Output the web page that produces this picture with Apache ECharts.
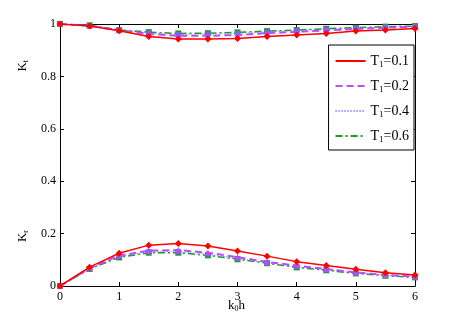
<!DOCTYPE html>
<html>
<head>
<meta charset="utf-8">
<script src="https://cdn.jsdelivr.net/npm/echarts@6/dist/echarts.min.js"></script>
<style>
  html, body { margin: 0; padding: 0; background: #fff; }
  #chart { width: 458px; height: 327px; }
</style>
</head>
<body>
<div id="chart"></div>
<script>
const kh = [0, 0.5, 1, 1.5, 2, 2.5, 3, 3.5, 4, 4.5, 5, 5.5, 6]
const legendNames = ['T1=0.1', 'T1=0.2', 'T1=0.4', 'T1=0.6']

// transmission coefficient K_t
const kt01 = [1, 0.992, 0.974, 0.952, 0.943, 0.943, 0.945, 0.952, 0.958, 0.964, 0.973, 0.977, 0.983]
const kt02 = [1, 0.993, 0.976, 0.962, 0.955, 0.955, 0.958, 0.965, 0.970, 0.976, 0.981, 0.986, 0.989]
const kt04 = [1, 0.994, 0.977, 0.966, 0.960, 0.961, 0.964, 0.970, 0.974, 0.979, 0.984, 0.988, 0.991]
const kt06 = [1, 0.995, 0.977, 0.969, 0.964, 0.965, 0.968, 0.973, 0.977, 0.982, 0.986, 0.990, 0.992]

// reflection coefficient K_r
const kr01 = [0, 0.072, 0.125, 0.156, 0.162, 0.153, 0.134, 0.114, 0.093, 0.078, 0.064, 0.051, 0.042]
const kr02 = [0, 0.068, 0.116, 0.135, 0.137, 0.127, 0.110, 0.092, 0.078, 0.065, 0.052, 0.042, 0.036]
const kr04 = [0, 0.066, 0.112, 0.131, 0.131, 0.121, 0.105, 0.089, 0.074, 0.062, 0.050, 0.041, 0.034]
const kr06 = [0, 0.065, 0.109, 0.127, 0.127, 0.117, 0.102, 0.087, 0.071, 0.060, 0.048, 0.039, 0.033]

const yTicks = [0, 0.2, 0.4, 0.6, 0.8, 1]

const styles = [
  { color: '#ff0000', type: 'solid', width: 1.5, symbol: 'diamond', size: 7 },
  { color: '#b94dff', type: [7, 4], width: 2, symbol: 'triangle', size: 6 },
  { color: '#6868ff', type: [1, 2], width: 1, symbol: 'rect', size: 5 },
  { color: '#229922', type: [7, 3, 2, 3], width: 1.5, symbol: 'rect', size: 6 }
]

const pairs = ys => kh.map((x, i) => [x, ys[i]])
const groups = [[kt01, kr01], [kt02, kr02], [kt04, kr04], [kt06, kr06]]

const series = []
groups.forEach((g, i) => {
  const s = styles[i]
  g.forEach(ys => {
    series.push({
      name: legendNames[i],
      type: 'line',
      data: pairs(ys),
      symbol: s.symbol,
      symbolSize: s.size,
      showAllSymbol: true,
      lineStyle: { color: s.color, type: s.type, width: s.width },
      itemStyle: { color: s.color },
      z: 10 - i
    })
  })
})

const font = 'Liberation Serif'
const axisCommon = {
  type: 'value',
  axisLine: { show: true, onZero: false, lineStyle: { color: '#000', width: 1 } },
  axisTick: { show: true, inside: true, length: 4, lineStyle: { color: '#000' } },
  splitLine: { show: false }
}

const chart = echarts.init(document.getElementById('chart'))
chart.setOption({
  animation: false,
  backgroundColor: '#fff',
  textStyle: { fontFamily: font },
  grid: { left: 60, right: 43, top: 24, bottom: 41 },
  xAxis: [
    Object.assign({}, axisCommon, {
      min: 0, max: 6, interval: 1, position: 'bottom',
      axisLabel: { color: '#000', fontFamily: font, fontSize: 12, margin: 5 }
    }),
    Object.assign({}, axisCommon, {
      min: 0, max: 6, interval: 1, position: 'top',
      axisLabel: { show: false }
    })
  ],
  yAxis: [
    Object.assign({}, axisCommon, {
      min: 0, max: 1, interval: 0.2, position: 'left',
      axisLabel: {
        color: '#000', fontFamily: font, fontSize: 12, margin: 4,
        formatter: v => {
          const t = yTicks.find(y => Math.abs(y - v) < 1e-9)
          return t === undefined ? '' : String(t)
        }
      }
    }),
    Object.assign({}, axisCommon, {
      min: 0, max: 1, interval: 0.2, position: 'right',
      axisLabel: { show: false }
    })
  ],
  legend: {
    data: legendNames,
    orient: 'vertical',
    right: 44,
    top: 45,
    backgroundColor: '#fff',
    borderColor: '#000',
    borderWidth: 1,
    borderRadius: 0,
    padding: [9, 5, 6, 6],
    itemGap: 10,
    itemWidth: 30,
    itemHeight: 12,
    itemStyle: { opacity: 0 },
    textStyle: {
      color: '#000', fontFamily: font, fontSize: 14,
      rich: { s: { fontSize: 9, verticalAlign: 'bottom', padding: [7, 0, 0, 0], fontFamily: font } }
    },
    formatter: n => 'T{s|1}=' + n.split('=')[1]
  },
  graphic: [
    {
      type: 'text', left: 16, top: 60, rotation: Math.PI / 2,
      style: {
        text: 'K{s|t}', fill: '#000', font: '13px ' + font,
        rich: { s: { fontSize: 8, padding: [6, 0, 0, 0], fontFamily: font } }
      }
    },
    {
      type: 'text', left: 16, top: 230, rotation: Math.PI / 2,
      style: {
        text: 'K{s|r}', fill: '#000', font: '13px ' + font,
        rich: { s: { fontSize: 8, padding: [6, 0, 0, 0], fontFamily: font } }
      }
    },
    {
      type: 'text', left: 228, top: 299,
      style: {
        text: 'k{s|0}h', fill: '#000', font: '13px ' + font,
        rich: { s: { fontSize: 8, padding: [6, 0, 0, 0], fontFamily: font } }
      }
    }
  ],
  series: series
})
</script>
</body>
</html>
